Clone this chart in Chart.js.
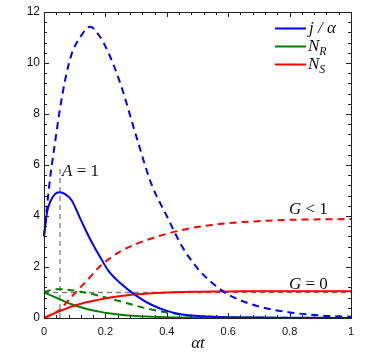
<!DOCTYPE html>
<html><head><meta charset="utf-8">
<script src="https://cdn.jsdelivr.net/npm/chart.js@4/dist/chart.umd.min.js"></script>
<style>html,body{margin:0;padding:0;background:#fff;}#wrap{width:382px;height:361px;position:relative;}</style>
</head><body><div id="wrap"><canvas id="c"></canvas></div>
<script>
// ---- data ----
const tValues  = [0, 0.01, 0.02, 0.035, 0.05, 0.07, 0.09, 0.12, 0.15, 0.18, 0.21, 0.25, 0.3, 0.35, 0.4, 0.45, 0.5, 0.55, 0.6, 0.7, 0.8, 0.9, 1.0];
const jAlphaG0 = [3.2, 4.15, 4.55, 4.85, 4.93, 4.85, 4.62, 3.85, 3.1, 2.45, 1.85, 1.35, 0.88, 0.52, 0.28, 0.14, 0.08, 0.05, 0.03, 0.015, 0.01, 0.005, 0];
const jAlphaG1 = [3.2, 4.4, 5.5, 6.8, 8.05, 9.4, 10.35, 11.05, 11.42, 11.07, 10.4, 9.15, 7.15, 5.25, 4.0, 2.8, 1.95, 1.35, 0.92, 0.45, 0.22, 0.1, 0.05];
const nRG0     = [1.0, 0.95, 0.9, 0.82, 0.74, 0.63, 0.54, 0.42, 0.32, 0.25, 0.19, 0.13, 0.08, 0.05, 0.03, 0.02, 0.01, 0.01, 0.01, 0.005, 0, 0, 0];
const nRG1     = [1.0, 1.05, 1.09, 1.12, 1.13, 1.12, 1.09, 1.03, 0.96, 0.87, 0.78, 0.65, 0.48, 0.33, 0.22, 0.13, 0.07, 0.04, 0.03, 0.01, 0.005, 0, 0];
const nSG0     = [0, 0.06, 0.11, 0.19, 0.26, 0.36, 0.45, 0.56, 0.65, 0.72, 0.79, 0.86, 0.93, 0.97, 1.0, 1.02, 1.03, 1.04, 1.04, 1.05, 1.05, 1.05, 1.05];
const nSG1     = [0, 0.05, 0.1, 0.2, 0.3, 0.56, 0.83, 1.22, 1.6, 2.0, 2.3, 2.62, 2.9, 3.12, 3.3, 3.45, 3.57, 3.65, 3.72, 3.8, 3.85, 3.87, 3.88];
const refVertT = [0.052, 0.052];
const refVertY = [0, 6];
const refHorT  = [0, 1];
const refHorY  = [1, 1];
const xTicks   = [0, 0.2, 0.4, 0.6, 0.8, 1];
const yTicks   = [0, 2, 4, 6, 8, 10, 12];
const legendLabels = [["j / α"], ["N", "R"], ["N", "S"]];

const BLUE = '#0000ff', GREEN = '#008000', RED = '#ff0000', GRAY = '#7f7f7f';
const pts = (xs, ys) => xs.map((x, i) => ({x: x, y: ys[i]}));

function ds(label, ys, color, dashed) {
  return {label, data: pts(tValues, ys), borderColor: color, borderWidth: 2,
    borderDash: dashed ? [7, 5] : [], pointRadius: 0, fill: false,
    cubicInterpolationMode: 'monotone', clip: 3};
}

const serif = '"Liberation Serif", "DejaVu Serif", serif';

function drawMixed(ctx, x, y, parts, size) {
  let cx = x;
  ctx.textBaseline = 'middle';
  ctx.textAlign = 'left';
  for (const [txt, st] of parts) {
    let fs = size, dy = 0, it = true;
    if (st === 'r') it = false;
    if (st === 'si') { fs = size * 0.7; dy = size * 0.3; }
    ctx.font = (it ? 'italic ' : '') + fs + 'px ' + serif;
    ctx.fillText(txt, cx, y + dy);
    cx += ctx.measureText(txt).width;
  }
}

const framePlugin = {
  id: 'frame',
  afterDatasetsDraw(chart) {
    const {ctx, chartArea: a, scales: {x, y}} = chart;
    ctx.save();
    ctx.strokeStyle = '#222';
    ctx.lineWidth = 1;
    ctx.beginPath();
    for (let i = 0; i <= 25; i++) {
      const v = i * 0.04;
      const px = Math.round(x.getPixelForValue(v)) + 0.5;
      const L = (i % 5 === 0) ? 5 : 3;
      ctx.moveTo(px, a.bottom); ctx.lineTo(px, a.bottom - L);
      ctx.moveTo(px, a.top); ctx.lineTo(px, a.top + L);
    }
    for (let i = 0; i <= 30; i++) {
      const v = i * 0.4;
      const py = Math.round(y.getPixelForValue(v)) + 0.5;
      const L = (i % 5 === 0) ? 5 : 3;
      ctx.moveTo(a.left, py); ctx.lineTo(a.left + L, py);
      ctx.moveTo(a.right, py); ctx.lineTo(a.right - L, py);
    }
    ctx.stroke();
    ctx.strokeRect(Math.round(a.left) + 0.5, Math.round(a.top) + 0.5, Math.round(a.right - a.left), Math.round(a.bottom - a.top));

    ctx.fillStyle = '#111';
    drawMixed(ctx, x.getPixelForValue(0.059), y.getPixelForValue(5.76), [['A', 'i'], [' = 1', 'r']], 17);
    drawMixed(ctx, x.getPixelForValue(0.798), y.getPixelForValue(4.24), [['G', 'i'], [' < 1', 'r']], 17);
    drawMixed(ctx, x.getPixelForValue(0.798), y.getPixelForValue(1.33), [['G', 'i'], [' = 0', 'r']], 17);

    const colors = [BLUE, GREEN, RED];
    const lx0 = a.right - 76, lx1 = a.right - 45;
    for (let i = 0; i < 3; i++) {
      const ly = a.top + 16.5 + i * 18;
      ctx.strokeStyle = colors[i]; ctx.lineWidth = 2; ctx.setLineDash([]);
      ctx.beginPath(); ctx.moveTo(lx0, ly); ctx.lineTo(lx1, ly); ctx.stroke();
      const lab = legendLabels[i];
      ctx.fillStyle = '#111';
      if (lab.length === 1) drawMixed(ctx, lx1 + 3, ly, [[lab[0], 'i']], 17);
      else drawMixed(ctx, lx1 + 2, ly, [[lab[0], 'i'], [lab[1], 'si']], 17);
    }
    ctx.fillStyle = '#111';
    ctx.font = 'italic 17px ' + serif;
    ctx.textAlign = 'center'; ctx.textBaseline = 'middle';
    ctx.fillText('αt', (a.left + a.right) / 2 + 0.5, 344);
    ctx.restore();
  }
};

const fmt = v => String(Math.round(v * 10) / 10);

new Chart(document.getElementById('c'), {
  type: 'line',
  data: {
    datasets: [
      ds('j/α G<1', jAlphaG1, BLUE, true),
      ds('j/α G=0', jAlphaG0, BLUE, false),
      ds('N_S G<1', nSG1, RED, true),
      ds('N_S G=0', nSG0, RED, false),
      ds('N_R G<1', nRG1, GREEN, true),
      ds('N_R G=0', nRG0, GREEN, false),
      {label: 'ref h', data: pts(refHorT, refHorY), borderColor: GRAY, borderWidth: 1.3, borderDash: [5, 4], pointRadius: 0, tension: 0},
      {label: 'ref v', data: pts(refVertT, refVertY), borderColor: GRAY, borderWidth: 1.3, borderDash: [5, 4], pointRadius: 0, tension: 0}
    ]
  },
  options: {
    responsive: true, maintainAspectRatio: false, animation: false,
    layout: {padding: {top: 12, right: 31, left: 0, bottom: 0}},
    plugins: {legend: {display: false}, tooltip: {enabled: false}},
    scales: {
      x: {type: 'linear', min: 0, max: 1,
        afterBuildTicks: s => { s.ticks = xTicks.map(v => ({value: v})); },
        afterFit: s => { s.height = 43; },
        grid: {display: false, drawTicks: false}, border: {display: false},
        ticks: {padding: 7, color: '#111', callback: v => fmt(v), font: {family: '"Liberation Sans", Arial, sans-serif', size: 11}, maxRotation: 0}},
      y: {type: 'linear', min: 0, max: 12,
        afterBuildTicks: s => { s.ticks = yTicks.map(v => ({value: v})); },
        afterFit: s => { s.width = 44; },
        grid: {display: false, drawTicks: false}, border: {display: false},
        ticks: {padding: 4, color: '#111', callback: v => fmt(v), font: {family: '"Liberation Sans", Arial, sans-serif', size: 12}}}
    }
  },
  plugins: [framePlugin]
});
</script>
</body></html>
